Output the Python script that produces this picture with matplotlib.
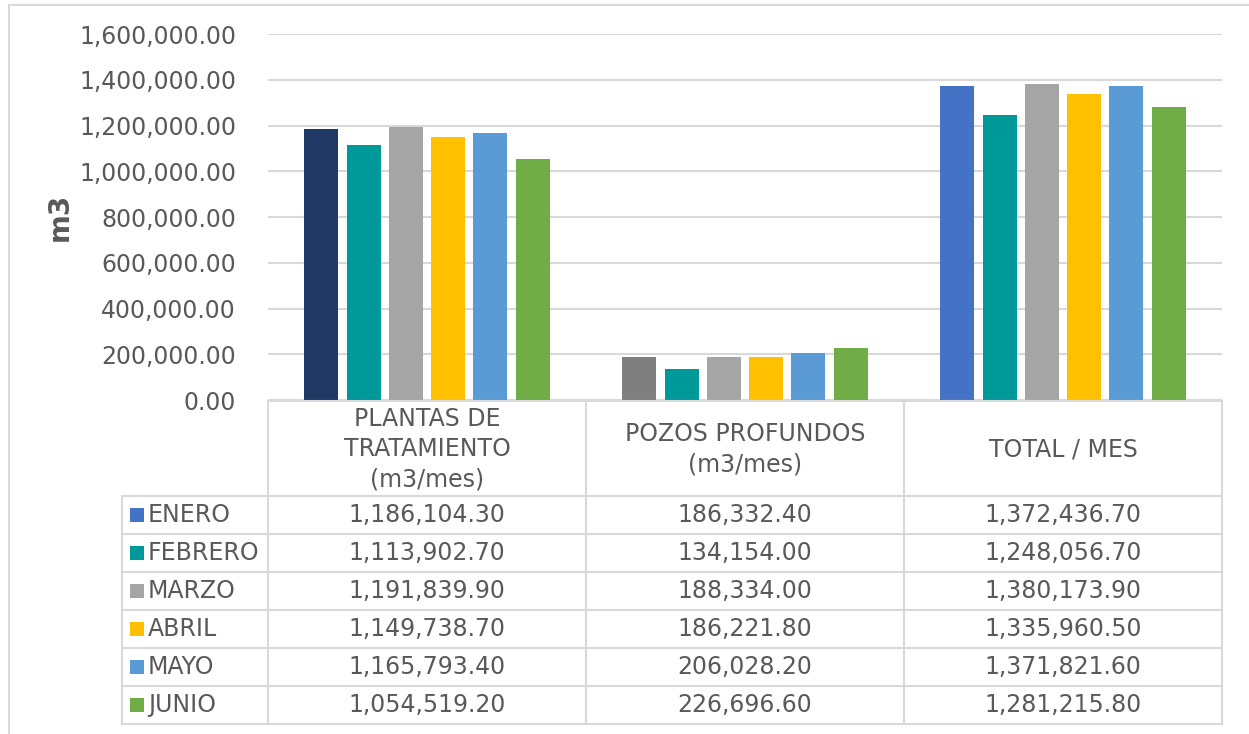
import numpy as np
import matplotlib.pyplot as plt

# data
categorias = ["PLANTAS DE\nTRATAMIENTO\n(m3/mes)", "POZOS PROFUNDOS\n(m3/mes)", "TOTAL / MES"]
meses = ["ENERO", "FEBRERO", "MARZO", "ABRIL", "MAYO", "JUNIO"]
plantas = [1186104.30, 1113902.70, 1191839.90, 1149738.70, 1165793.40, 1054519.20]
pozos = [186332.40, 134154.00, 188334.00, 186221.80, 206028.20, 226696.60]
total = [1372436.70, 1248056.70, 1380173.90, 1335960.50, 1371821.60, 1281215.80]
yticks = np.arange(0, 1600001, 200000)

colores = ["#4472C4", "#009999", "#A5A5A5", "#FFC000", "#5B9BD5", "#70AD47"]
# the first month has its own colour per category in the original
colores_enero = ["#203864", "#7F7F7F", "#4472C4"]

W, H = 1249, 734
TXT = "#595959"
LINE = "#D9D9D9"
FS = 17

fig = plt.figure(figsize=(W / 100, H / 100), dpi=100)
fig.patch.set_facecolor("white")

# plot area in pixels
x0, x1, ybase, ytop = 268, 1222, 400, 34
ax = fig.add_axes([x0 / W, 1 - ybase / H, (x1 - x0) / W, (ybase - ytop) / H])
ax.patch.set_alpha(0)

series = np.array([plantas, pozos, total]).T  # rows = months
pitch = 0.133
bw = 0.107
for i, mes in enumerate(meses):
    xs = np.arange(3) + 0.5 + (i - 2.5) * pitch
    cols = colores_enero if i == 0 else [colores[i]] * 3
    ax.bar(xs, series[i], width=bw, color=cols, zorder=3)

ax.set_xlim(0, 3)
ax.set_ylim(0, 1600000)
ax.set_yticks(yticks)
ax.set_yticklabels([f"{v:,.2f}" for v in yticks], fontsize=FS, color=TXT)
ax.tick_params(axis="y", length=0, pad=23)
ax.set_xticks([])
ax.grid(axis="y", color=LINE, lw=1.5, zorder=0)
for s in ax.spines.values():
    s.set_visible(False)
ax.set_ylabel("m3", fontsize=20, fontweight="bold", color=TXT, labelpad=4)

# data table + outer frame drawn in pixel coordinates
ov = fig.add_axes([0, 0, 1, 1])
ov.set_xlim(0, W)
ov.set_ylim(H, 0)
ov.axis("off")
ov.patch.set_alpha(0)

lw = 1.5
ov.plot([9, 9], [5, H], color=LINE, lw=lw)
ov.plot([9, W], [5, 5], color=LINE, lw=lw)

col_x = [x0 + (x1 - x0) * k / 3 for k in range(4)]
row_y = [496 + 38 * k for k in range(7)]
left = 122
hdr_top = 401

ov.plot([x0, x1], [hdr_top, hdr_top], color=LINE, lw=lw)
for cx in col_x:
    ov.plot([cx, cx], [hdr_top, row_y[-1]], color=LINE, lw=lw)
ov.plot([left, left], [row_y[0], row_y[-1]], color=LINE, lw=lw)
for ry in row_y:
    ov.plot([left, x1], [ry, ry], color=LINE, lw=lw)

for k, cat in enumerate(categorias):
    cxm = (col_x[k] + col_x[k + 1]) / 2
    ov.text(cxm, (hdr_top + row_y[0]) / 2 + 1, cat, ha="center", va="center",
            fontsize=FS, color=TXT, linespacing=1.33)

for i, mes in enumerate(meses):
    cy = (row_y[i] + row_y[i + 1]) / 2
    ov.add_patch(plt.Rectangle((130, cy - 7), 14, 14, color=colores[i], lw=0))
    ov.text(148, cy, mes, ha="left", va="center", fontsize=FS, color=TXT)
    for k in range(3):
        cxm = (col_x[k] + col_x[k + 1]) / 2
        ov.text(cxm, cy, f"{series[i][k]:,.2f}", ha="center", va="center",
                fontsize=FS, color=TXT)

fig.savefig("out.png", dpi=100, facecolor="white")
